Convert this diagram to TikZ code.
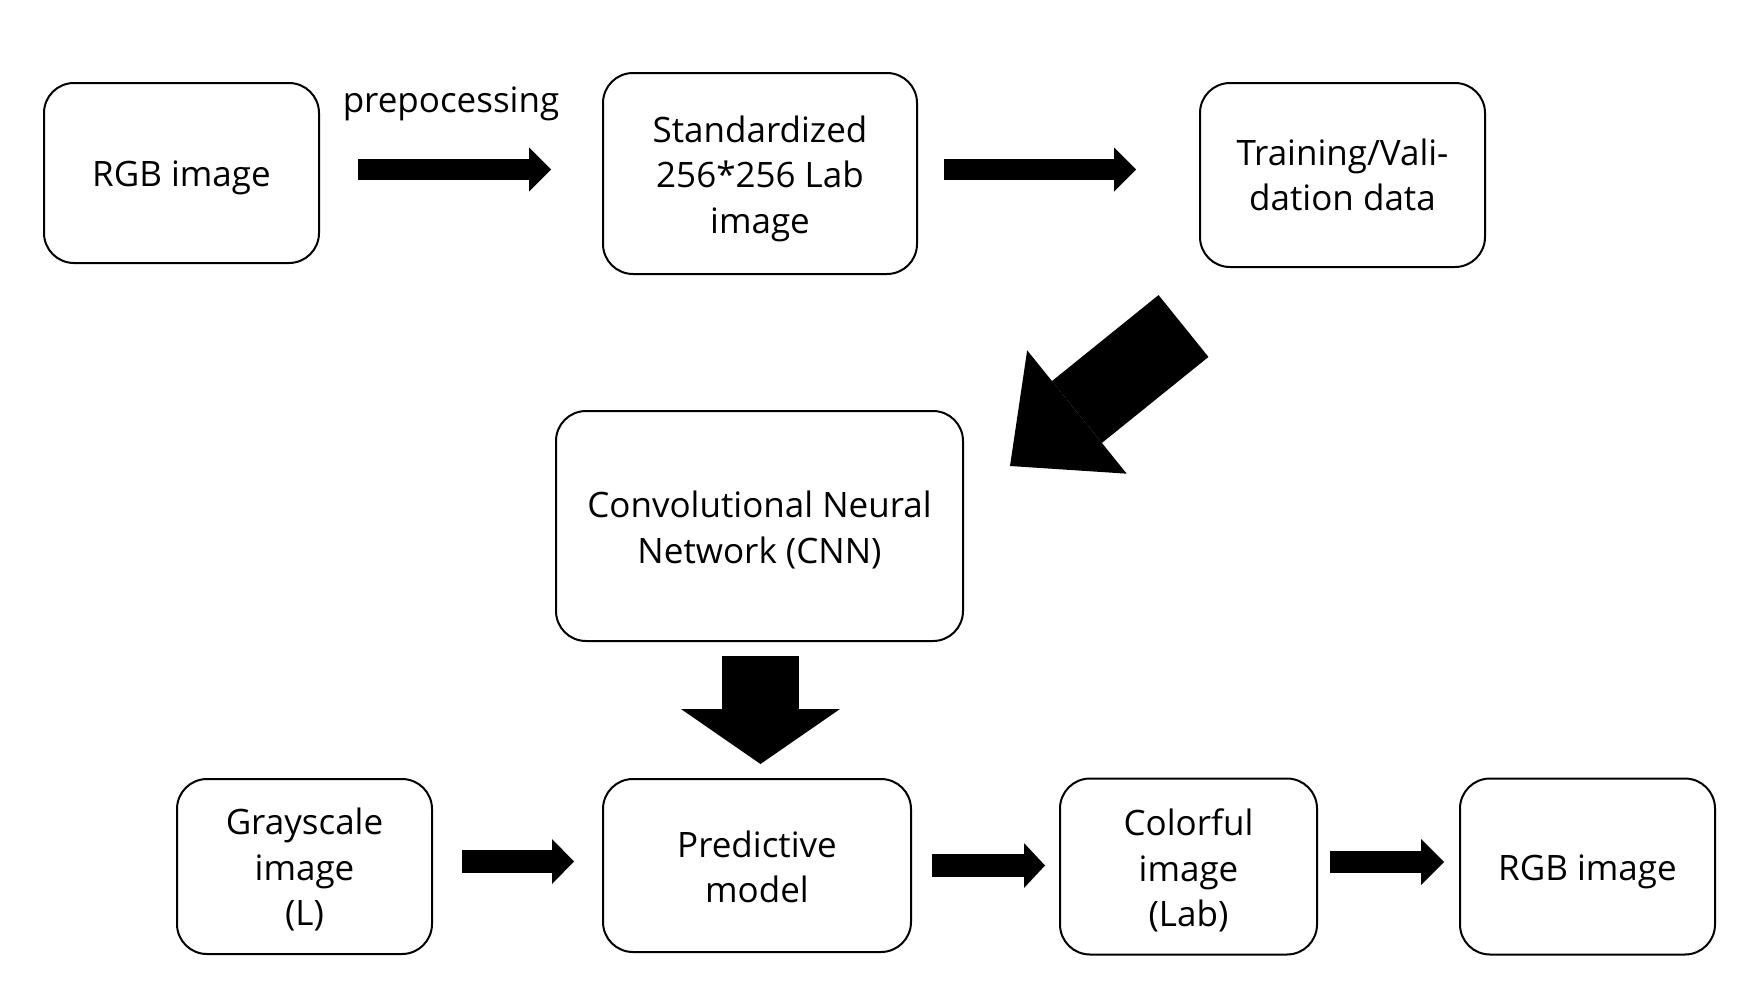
\documentclass[tikz,border=0pt]{standalone}
\usepackage{fontspec}
\setmainfont{Open Sans}
\usetikzlibrary{arrows.meta}
\begin{document}
\begin{tikzpicture}[x=1pt,y=-1pt,
  txt/.style={font=\fontsize{35}{45.5}\selectfont, align=center, inner sep=0pt},
  box/.style={draw=black, line width=2pt, rounded corners=30pt, fill=white, inner sep=0pt},
  blkarrow/.style n args={3}{line width=#1, draw=black,
    -{Triangle[width=#2, length=#3, line width=0pt]}}]
\fill[white] (0,0) rectangle (1738,988);
\useasboundingbox (0,0) rectangle (1738,988);

% boxes
\node[box, minimum width=275pt, minimum height=180pt] (rgbA) at (181.5,173) {};
\node[box, minimum width=314pt, minimum height=201pt] (std) at (760,173.5) {};
\node[box, minimum width=285pt, minimum height=184pt] (train) at (1342.5,175) {};
\node[box, minimum width=407pt, minimum height=230pt] (cnn) at (759.5,526) {};
\node[box, minimum width=255pt, minimum height=175pt] (gray) at (304.5,866.5) {};
\node[box, minimum width=308pt, minimum height=173pt] (pred) at (757,865.5) {};
\node[box, minimum width=257pt, minimum height=176pt] (color) at (1188.5,866.5) {};
\node[box, minimum width=255pt, minimum height=176pt] (rgbB) at (1587.5,866.5) {};

% texts
\node[txt, yshift=-5pt] (trgbA) at (rgbA.center) {RGB image};
\node[txt, yshift=-5pt] (tstd) at (std.center) {Standardized\\256*256 Lab\\image};
\node[txt, yshift=0pt] (ttrain) at (train.center) {Training/Vali-\\dation data};
\node[txt, yshift=-4pt] (tcnn) at (cnn.center) {Convolutional Neural\\Network (CNN)};
\node[txt, yshift=-3pt] (tgray) at (gray.center) {Grayscale\\image\\(L)};
\node[txt, yshift=-1.5pt] (tpred) at (pred.center) {Predictive\\model};
\node[txt, yshift=-4pt] (tcolor) at (color.center) {Colorful\\image\\(Lab)};
\node[txt, yshift=-5pt] (trgbB) at (rgbB.center) {RGB image};
\node[txt] (pre) at (451,104) {prepocessing};

% arrow end points
\coordinate (a1s) at (358,169.5);   \coordinate (a1e) at (551,169.5);
\coordinate (a2s) at (944,169.5);   \coordinate (a2e) at (1136,169.5);
\coordinate (ds)  at (1183.5,326);  \coordinate (de)  at (1010,466);
\coordinate (vs)  at (760.5,656);   \coordinate (ve)  at (760.5,764);
\coordinate (b1s) at (462,861.5);   \coordinate (b1e) at (574,861.5);
\coordinate (b2s) at (932,865.5);   \coordinate (b2e) at (1045,865.5);
\coordinate (b3s) at (1330,862);    \coordinate (b3e) at (1444,862);

% block arrows
\draw[blkarrow={21pt}{44pt}{22pt}] (a1s) -- (a1e);
\draw[blkarrow={21pt}{44pt}{22pt}] (a2s) -- (a2e);
\draw[blkarrow={79.5pt}{158.5pt}{86pt}] (ds) -- (de);
\draw[blkarrow={77pt}{159pt}{55pt}] (vs) -- (ve);
\draw[blkarrow={23pt}{45pt}{22pt}] (b1s) -- (b1e);
\draw[blkarrow={23pt}{45pt}{21pt}] (b2s) -- (b2e);
\draw[blkarrow={22pt}{46pt}{23pt}] (b3s) -- (b3e);
\end{tikzpicture}
\end{document}
